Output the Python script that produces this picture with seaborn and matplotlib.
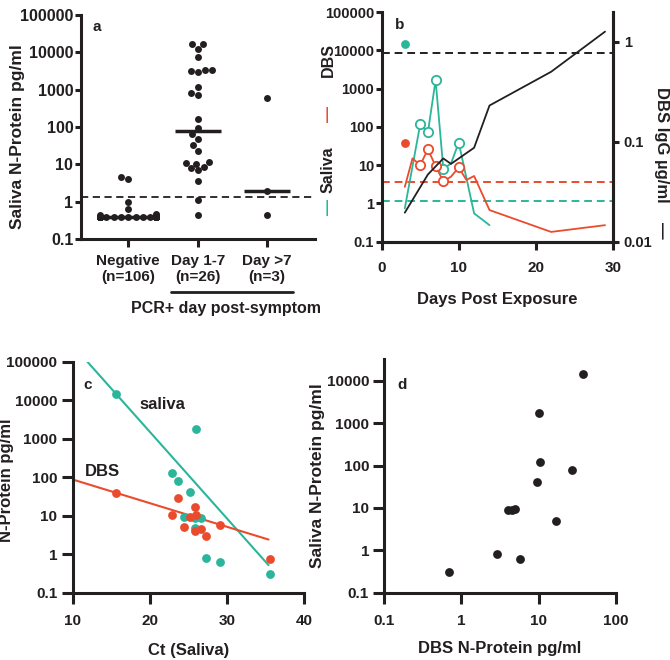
import warnings
import numpy as np
import pandas as pd
import seaborn as sns
import matplotlib.pyplot as plt
import matplotlib.transforms as mtransforms
from matplotlib.ticker import FixedLocator, FuncFormatter, NullLocator

warnings.filterwarnings('ignore')

TEAL = '#2bb59b'
RED = '#eb4b2d'
INK = '#231f20'

# panel a - saliva N-protein per group (pg/ml)
group_labels = ['Negative\n(n=106)', 'Day 1-7\n(n=26)', 'Day >7\n(n=3)']
neg_vals = [4.6, 4.0, 1.0, 0.62, 0.46, 0.45, 0.44] + [0.4] * 99
early_vals = [16300, 16300, 12400, 7400, 3400, 3400, 3200, 2950, 1200, 820, 720,
              160, 92, 63, 47, 32, 23, 11.8, 10.7, 10.5, 8.5, 7.8, 6.9, 3.6, 1.1, 0.43]
late_vals = [590, 1.9, 0.43]
cutoff_a = 1.37

# panel b - one subject over time
sal_days = [3, 5, 6, 7, 8, 9, 10, 12, 14]
sal_vals = [0.74, 117, 72, 1660, 8, 11, 39, 0.55, 0.27]
dbs_days = [3, 4, 5, 6, 7, 8, 9, 10, 11, 12, 14, 22, 29]
dbs_vals = [2.7, 15, 10, 26, 9.4, 3.8, 5.0, 8.7, 4.1, 5.2, 0.67, 0.18, 0.27]
circle_days = [5, 6, 7, 8, 10]
first_day = [3]
sal_first = [14500]
dbs_first = [37]
igg_days = [3, 6, 8, 9, 12, 14, 22, 29]
igg_vals = [0.0195, 0.047, 0.068, 0.060, 0.087, 0.23, 0.50, 1.26]
igg_cutoff = 0.77
dbs_cutoff = 3.7
sal_cutoff = 1.17

# panel c - N-protein vs Ct
ct_sal = [15.6, 26.0, 22.9, 23.7, 25.2, 24.4, 25.9, 26.7, 25.9, 27.3, 29.1, 35.6]
np_sal = [14400, 1740, 126, 79, 41, 9.3, 8.9, 8.9, 4.8, 0.81, 0.62, 0.30]
ct_dbs = [15.6, 23.7, 22.9, 24.4, 25.2, 25.9, 26.0, 25.9, 26.7, 27.3, 29.1, 35.6]
np_dbs = [39, 28, 10.7, 5.2, 9.3, 17, 10.4, 4.0, 4.5, 3.0, 5.9, 0.74]
fit_ct_sal = [11.9, 35.4]
fit_np_sal = [100000, 0.52]
fit_ct_dbs = [10, 35.4]
fit_np_dbs = [87, 2.4]

# panel d - saliva vs DBS
d_dbs = [0.69, 2.9, 5.8, 4.0, 4.5, 5.0, 9.4, 10.5, 10, 16.6, 27, 38]
d_sal = [0.31, 0.81, 0.63, 8.7, 8.7, 9.3, 41, 124, 1740, 4.9, 78, 14400]

sns.set_theme(style='ticks')
plt.rcParams['font.family'] = ['Liberation Sans', 'DejaVu Sans']
plt.rcParams['font.weight'] = 'bold'
plt.rcParams['axes.labelweight'] = 'bold'
plt.rcParams['axes.edgecolor'] = INK
plt.rcParams['axes.linewidth'] = 2.2
plt.rcParams['xtick.major.width'] = 2.2
plt.rcParams['ytick.major.width'] = 2.2
plt.rcParams['xtick.color'] = INK
plt.rcParams['ytick.color'] = INK
plt.rcParams['xtick.labelsize'] = 11
plt.rcParams['ytick.labelsize'] = 11
plt.rcParams['axes.labelsize'] = 12
plt.rcParams['text.color'] = INK
plt.rcParams['axes.labelcolor'] = INK

fmt = FuncFormatter(lambda v, p: f'{v:g}')


def log_axis(axis, ticks):
    axis.set_major_locator(FixedLocator(ticks))
    axis.set_major_formatter(fmt)
    axis.set_minor_locator(NullLocator())


fig = plt.figure(figsize=(6.7, 6.6), dpi=100)
decades = [0.1, 1, 10, 100, 1000, 10000, 100000]

# ---------------- panel a ----------------
axa = fig.add_axes([0.1209, 0.6379, 0.3493, 0.3394])
sns.despine(ax=axa)
axa.set_yscale('log')
axa.set_ylim(0.1, 100000)
axa.set_xlim(-0.68, 2.69)
df_a = pd.DataFrame({
    'group': [group_labels[0]] * len(neg_vals) + [group_labels[1]] * len(early_vals)
             + [group_labels[2]] * len(late_vals),
    'val': neg_vals + early_vals + late_vals,
})
sns.swarmplot(data=df_a, x='group', y='val', order=group_labels, color=INK,
              size=5, ax=axa)
axa.set_xlim(-0.68, 2.69)
meds = [np.median(v) for v in (neg_vals, early_vals, late_vals)]
axa.hlines(meds, np.arange(3) - 0.33, np.arange(3) + 0.33, color=INK, lw=2.5, zorder=5)
axa.axhline(cutoff_a, color=INK, ls=(0, (4, 2.5)), lw=1.3)
log_axis(axa.yaxis, decades)
axa.set_xlabel('')
axa.set_ylabel('Saliva N-Protein pg/ml', fontsize=12.5)
axa.yaxis.set_label_coords(-0.239, 0.455)
axa.tick_params(axis='y', length=4, pad=1.5, labelsize=11.5)
axa.tick_params(axis='x', length=6, pad=5)
tr = mtransforms.blended_transform_factory(axa.transData, axa.transAxes)
axa.plot([0.62, 2.37], [-0.235, -0.235], color=INK, lw=2, transform=tr, clip_on=False)
axa.text(1.41, -0.31, 'PCR+ day post-symptom', transform=tr, ha='center', va='center',
         fontsize=11.5, fontweight='bold')
axa.text(0.068, 0.946, 'a', transform=axa.transAxes, ha='center', va='center',
         fontsize=11, fontweight='bold')

# ---------------- panel b ----------------
axb = fig.add_axes([0.5697, 0.6338, 0.3448, 0.348])
axb.set_yscale('log')
axb.set_ylim(0.1, 100000)
axb.set_xlim(0, 30)
axr = axb.twinx()
axr.set_yscale('log')
axr.set_ylim(0.01, 1.98)
for a in (axb, axr):
    a.spines['top'].set_visible(False)
axr.spines['left'].set_visible(False)

axb.axhline(dbs_cutoff, color=RED, ls=(0, (4, 2.5)), lw=1.4)
axb.axhline(sal_cutoff, color=TEAL, ls=(0, (4, 2.5)), lw=1.4)
axr.axhline(igg_cutoff, color=INK, ls=(0, (4, 2.5)), lw=1.4)

sns.lineplot(x=sal_days, y=sal_vals, ax=axb, color=TEAL, lw=1.3, estimator=None, sort=False)
sns.lineplot(x=dbs_days, y=dbs_vals, ax=axb, color=RED, lw=1.3, estimator=None, sort=False)
sal_c = np.isin(sal_days, circle_days)
dbs_c = np.isin(dbs_days, circle_days)
axb.scatter(np.array(sal_days)[sal_c], np.array(sal_vals)[sal_c], s=45,
            facecolors='white', edgecolors=TEAL, linewidths=1.3, zorder=4)
axb.scatter(np.array(dbs_days)[dbs_c], np.array(dbs_vals)[dbs_c], s=45,
            facecolors='white', edgecolors=RED, linewidths=1.3, zorder=4)
sns.scatterplot(x=first_day, y=sal_first, ax=axb, color=TEAL, s=40, linewidth=0)
sns.scatterplot(x=first_day, y=dbs_first, ax=axb, color=RED, s=40, linewidth=0)
sns.lineplot(x=igg_days, y=igg_vals, ax=axr, color=INK, lw=1.3, estimator=None, sort=False)

log_axis(axb.yaxis, decades)
log_axis(axr.yaxis, [0.01, 0.1, 1])
axb.xaxis.set_major_locator(FixedLocator([0, 10, 20, 30]))
axb.set_xlabel('Days Post Exposure', labelpad=12)
axb.tick_params(axis='y', length=4, pad=1.5, labelsize=10.5)
axr.tick_params(axis='y', length=4, pad=4, labelsize=10.5)
axb.tick_params(axis='x', length=6, pad=8)
axb.text(0.078, 0.943, 'b', transform=axb.transAxes, ha='center', va='center',
         fontsize=11, fontweight='bold')
# coloured legend-style left label
for txt, yy, col in [('—', 0.152, TEAL), ('Saliva', 0.313, INK),
                     ('—', 0.557, RED), ('DBS', 0.79, INK)]:
    axb.text(-0.232, yy, txt, transform=axb.transAxes, rotation=90, ha='center',
             va='center', color=col, fontsize=11.5, fontweight='bold')
axb.text(1.21, 0.42, 'DBS IgG µg/ml', transform=axb.transAxes, rotation=270,
         ha='center', va='center', fontsize=12, fontweight='bold')
axb.text(1.21, 0.05, '—', transform=axb.transAxes, rotation=270,
         ha='center', va='center', fontsize=12, fontweight='bold')

# ---------------- panel c ----------------
axc = fig.add_axes([0.1085, 0.102, 0.3452, 0.35])
sns.despine(ax=axc)
axc.set_yscale('log')
axc.set_ylim(0.1, 100000)
axc.set_xlim(10, 40)
sns.lineplot(x=fit_ct_sal, y=fit_np_sal, ax=axc, color=TEAL, lw=1.5)
sns.lineplot(x=fit_ct_dbs, y=fit_np_dbs, ax=axc, color=RED, lw=1.5)
sns.scatterplot(x=ct_sal, y=np_sal, ax=axc, color=TEAL, s=40, linewidth=0, zorder=3)
sns.scatterplot(x=ct_dbs, y=np_dbs, ax=axc, color=RED, s=40, linewidth=0, zorder=3)
log_axis(axc.yaxis, decades)
axc.xaxis.set_major_locator(FixedLocator([10, 20, 30, 40]))
axc.set_xlabel('Ct (Saliva)', labelpad=11)
axc.set_ylabel('N-Protein pg/ml')
axc.yaxis.set_label_coords(-0.254, 0.488)
axc.tick_params(axis='y', length=8, pad=3)
axc.tick_params(axis='x', length=8, pad=7)
axc.text(21.7, 7600, 'saliva', ha='center', va='center', fontsize=12, fontweight='bold')
axc.text(13.8, 138, 'DBS', ha='center', va='center', fontsize=12, fontweight='bold')
axc.text(0.066, 0.9, 'c', transform=axc.transAxes, ha='center', va='center',
         fontsize=11, fontweight='bold')

# ---------------- panel d ----------------
axd = fig.add_axes([0.5736, 0.102, 0.3454, 0.3536])
sns.despine(ax=axd)
axd.set_xscale('log')
axd.set_yscale('log')
axd.set_xlim(0.1, 100)
axd.set_ylim(0.1, 32000)
sns.scatterplot(x=d_dbs, y=d_sal, ax=axd, color=INK, s=40, linewidth=0)
log_axis(axd.yaxis, [0.1, 1, 10, 100, 1000, 10000])
log_axis(axd.xaxis, [0.1, 1, 10, 100])
axd.set_xlabel('DBS N-Protein pg/ml', labelpad=10)
axd.set_ylabel('Saliva N-Protein pg/ml', fontsize=12.5)
axd.yaxis.set_label_coords(-0.256, 0.5)
axd.tick_params(axis='y', length=8, pad=3)
axd.tick_params(axis='x', length=8, pad=7)
axd.text(0.075, 0.89, 'd', transform=axd.transAxes, ha='center', va='center',
         fontsize=11, fontweight='bold')

fig.savefig('out.png', dpi=100)
